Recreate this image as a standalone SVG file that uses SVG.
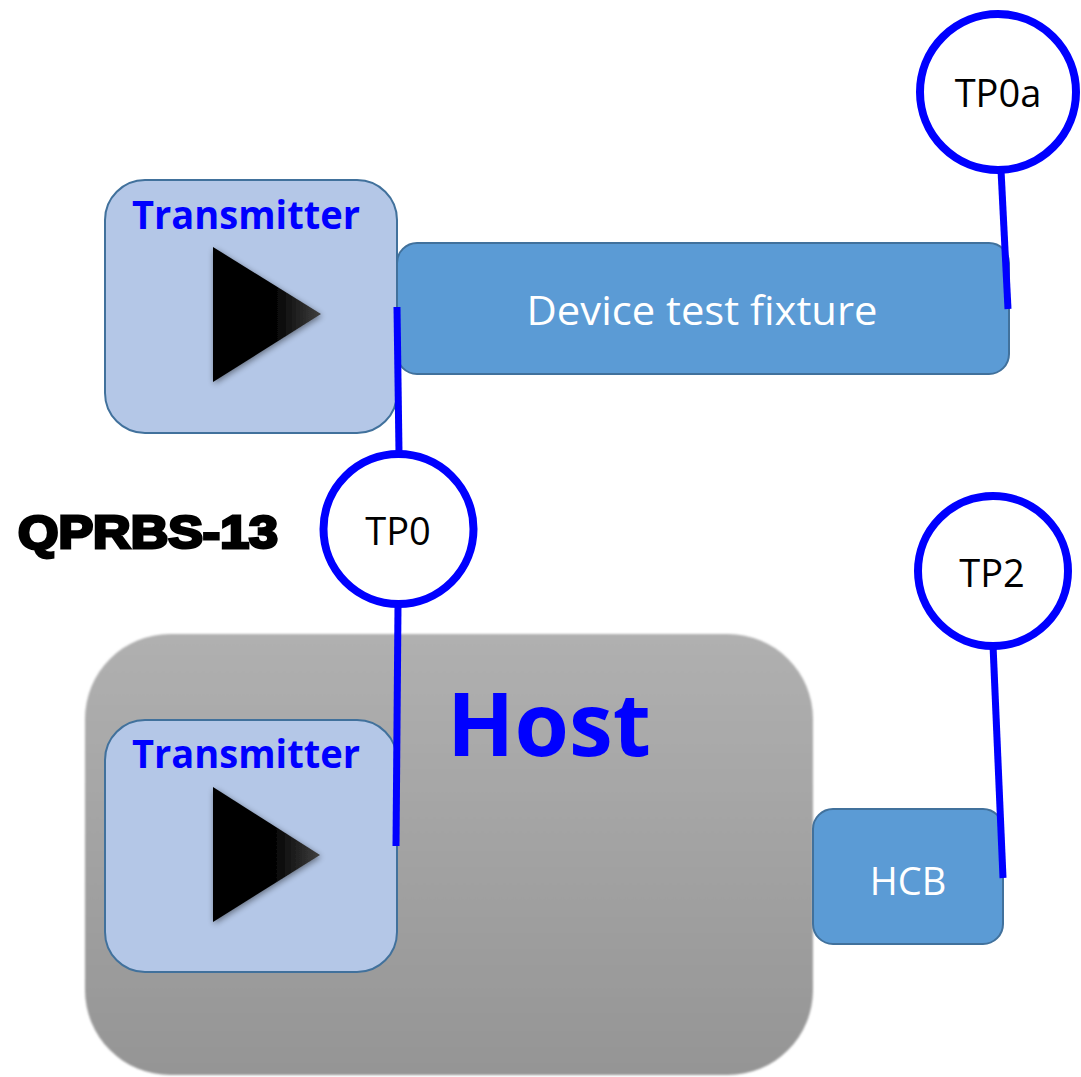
<svg xmlns="http://www.w3.org/2000/svg" width="1081" height="1077" viewBox="0 0 1081 1077">
<defs>
<style>
.tx{fill:#B4C7E7;stroke:#41719C;stroke-width:2}
.blk{fill:#5B9BD5;stroke:#41719C;stroke-width:2}
.tp{fill:#fff;stroke:#0000FF;stroke-width:8}
.wire{stroke:#0000FF;stroke-width:7;fill:none}
.ttl{font-family:"Open Sans","Liberation Sans",sans-serif;font-weight:bold;fill:#0000FF;text-anchor:middle}
.lbl{font-family:"Open Sans","Liberation Sans",sans-serif;fill:#000;text-anchor:middle}
.wlbl{font-family:"Open Sans","Liberation Sans",sans-serif;fill:#fff;text-anchor:middle}
</style>
<linearGradient id="tri" x1="0" y1="0" x2="1" y2="0">
<stop offset="0" stop-color="#000"/><stop offset="0.55" stop-color="#000"/><stop offset="1" stop-color="#404040"/>
</linearGradient>
<linearGradient id="host" x1="0" y1="0" x2="0" y2="1">
<stop offset="0" stop-color="#B0B0B0"/><stop offset="1" stop-color="#959595"/>
</linearGradient>
<filter id="sh" x="-10%" y="-10%" width="120%" height="120%">
<feGaussianBlur in="SourceAlpha" stdDeviation="3"/>
<feOffset dx="1" dy="2"/>
<feComponentTransfer><feFuncA type="linear" slope="0.45"/></feComponentTransfer>
<feMerge><feMergeNode/><feMergeNode in="SourceGraphic"/></feMerge>
</filter>
<filter id="soft" x="-5%" y="-5%" width="110%" height="110%">
<feGaussianBlur stdDeviation="0.8"/>
</filter>
</defs>
<rect width="1081" height="1077" fill="#fff"/>

<g id="host">
<rect x="85" y="634" width="728" height="441" rx="85" fill="url(#host)" filter="url(#soft)"/>
<text class="ttl" x="549" y="756" font-size="88">Host</text>
</g>

<g id="transmitter-top">
<rect class="tx" x="105" y="180" width="292" height="253" rx="40"/>
<text class="ttl" x="246" y="229" font-size="40" textLength="228" lengthAdjust="spacingAndGlyphs">Transmitter</text>
<polygon points="213,247 213,382 321,314" fill="url(#tri)" filter="url(#sh)"/>
</g>

<g id="device-test-fixture">
<rect class="blk" x="397" y="243" width="612" height="131" rx="20"/>
<text class="wlbl" x="702" y="325" font-size="40" textLength="351" lengthAdjust="spacingAndGlyphs">Device test fixture</text>
</g>

<g id="transmitter-host">
<rect class="tx" x="105" y="720" width="292" height="252" rx="40"/>
<text class="ttl" x="246" y="768" font-size="40" textLength="228" lengthAdjust="spacingAndGlyphs">Transmitter</text>
<polygon points="213,787 213,922 320,855" fill="url(#tri)" filter="url(#sh)"/>
</g>

<g id="hcb">
<rect class="blk" x="813" y="809" width="190" height="135" rx="20"/>
<text class="wlbl" x="908" y="895" font-size="38">HCB</text>
</g>

<g id="connectors">
<line class="wire" x1="397" y1="307" x2="399" y2="453"/>
<line class="wire" x1="398" y1="606" x2="396" y2="846"/>
<line class="wire" x1="1001" y1="170" x2="1008" y2="309"/>
<line class="wire" x1="993" y1="645" x2="1003" y2="878"/>
</g>

<g id="tp0a">
<circle class="tp" cx="998" cy="92" r="78"/>
<text class="lbl" x="998" y="107" font-size="38">TP0a</text>
</g>

<g id="tp0">
<circle class="tp" cx="398.5" cy="529" r="75"/>
<text class="lbl" x="398" y="545" font-size="38">TP0</text>
</g>

<g id="tp2">
<circle class="tp" cx="993" cy="571" r="75"/>
<text class="lbl" x="992" y="587" font-size="38">TP2</text>
</g>

<g id="qprbs">
<text x="18" y="548" font-family="'Liberation Sans',Arial,sans-serif" font-weight="900" font-size="46" fill="#000" stroke="#000" stroke-width="3" textLength="260" lengthAdjust="spacingAndGlyphs">QPRBS-13</text>
</g>
</svg>
